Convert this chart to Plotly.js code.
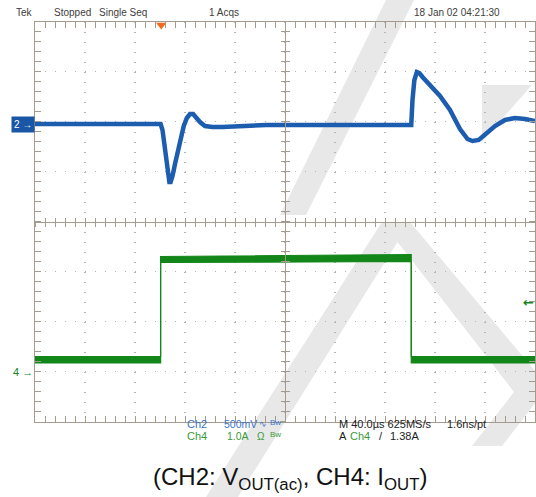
<!DOCTYPE html>
<html><head><meta charset="utf-8">
<script src="https://cdn.plot.ly/plotly-3.0.1.min.js"></script>
<style>html,body{margin:0;padding:0;background:#fff;} #chart{width:536px;height:497px;}</style>
</head><body><div id="chart"></div>
<script>
// ---- Time base: 40 µs/div, 10 divisions ----
const timeRange = [-200, 200];
const triggerTime = -99;      // µs
const triggerLevel = 1.38;    // A (Ch4)

// ---- CH2: VOUT(ac), mV (500 mV/div) ----
const ch2_t  = [-200, -170, -140, -120, -99.5, -98, -96.5, -95, -93.5, -92.5, -91.5, -90, -88, -86, -83.5, -81, -78.5, -76, -73.5, -71, -68, -64, -58, -50, -35, -15, 20, 60, 90, 101, 102, 103.5, 105.5, 107.5, 110, 116, 124, 132, 140, 146, 150, 155, 161, 168, 176, 184, 192, 200];
const ch2_mV = [0, 0, -10, 0, 0, -60, -210, -360, -510, -580, -580, -520, -400, -280, -140, -20, 60, 100, 100, 60, 20, -20, -30, -30, -20, -10, -10, -10, -10, -10, 240, 440, 520, 510, 470, 390, 280, 140, -50, -150, -170, -160, -100, -20, 40, 60, 50, 30];

// ---- CH4: IOUT, A (1.0 A/div) — displayed band envelope ----
const ch4_t     = [-200, -99.5, -99.5, 101, 101, 200];
const ch4_upper = [0.30, 0.30, 2.30, 2.34, 0.30, 0.30];
const ch4_lower = [0.17, 0.17, 2.18, 2.20, 0.17, 0.17];

const frameColor = '#a59a8e';
const gridColor = '#b4b4b4';
const blue = '#1d5db0';
const green = '#13861a';
const xDom = [35/536, 535/536];
const yDom = [75.5/497, 475.5/497];

const traces = [
  {x: ch4_t, y: ch4_lower, xaxis:'x', yaxis:'y3', mode:'lines', line:{color:green, width:1.2}, hoverinfo:'skip'},
  {x: ch4_t, y: ch4_upper, xaxis:'x', yaxis:'y3', mode:'lines', line:{color:green, width:1.2}, fill:'tonexty', fillcolor:green, hoverinfo:'skip'},
  {x: ch2_t, y: ch2_mV, xaxis:'x', yaxis:'y2', mode:'lines', line:{color:blue, width:4.5}, hoverinfo:'skip'},
  {x: [triggerTime], y: [3.93], xaxis:'x', yaxis:'y', mode:'markers', marker:{symbol:'triangle-down', size:9, color:'#f26a1b'}, cliponaxis:false, hoverinfo:'skip'},
  {x: [], y: [], xaxis:'x2', yaxis:'y', hoverinfo:'skip'},
  {x: [], y: [], xaxis:'x3', yaxis:'y', hoverinfo:'skip'},
  {x: [], y: [], xaxis:'x', yaxis:'y4', hoverinfo:'skip'},
  {x: [], y: [], xaxis:'x', yaxis:'y5', hoverinfo:'skip'}
];

function centerX(tk){ return {overlaying:'x', domain:xDom, range:timeRange, anchor:'free', position:(497-221.5)/497, side:'bottom',
  showline:true, linecolor:frameColor, linewidth:1, ticks:tk, ticklen:4, tickcolor:frameColor, tickwidth:1, dtick:40, tick0:0,
  minor:{dtick:8, tick0:0, ticks:tk, ticklen:4, tickcolor:frameColor, showgrid:false}, showgrid:false, zeroline:false, showticklabels:false, fixedrange:true}; }
function centerY(tk){ return {overlaying:'y', domain:yDom, range:[-4,4], anchor:'free', position:285/536, side:'left',
  showline:true, linecolor:frameColor, linewidth:1, ticks:tk, ticklen:4, tickcolor:frameColor, tickwidth:1, dtick:1, tick0:0,
  minor:{dtick:0.2, tick0:0, ticks:tk, ticklen:4, tickcolor:frameColor, showgrid:false}, showgrid:false, zeroline:false, showticklabels:false, fixedrange:true}; }

const hdrFont = {family:'Liberation Sans, Arial, sans-serif', size:10, color:'#404040'};
const infoFont = (c, s) => ({family:'Liberation Sans, Arial, sans-serif', size:s||11, color:c});
function txt(t, x, y, font, extra){ return Object.assign({text:t, x:x/536, y:1-y/497, xref:'paper', yref:'paper', xanchor:'left', yanchor:'middle', showarrow:false, font:font}, extra||{}); }

const annotations = [
  txt('Tek', 14, 13, hdrFont),
  txt('Stopped', 52, 13, hdrFont),
  txt('Single Seq', 97, 13, hdrFont),
  txt('1 Acqs', 207, 13, hdrFont),
  txt('18 Jan 02 04:21:30', 412, 13, hdrFont),
  txt('Ch2', 185, 424, infoFont('#3a74c4')),
  txt('500mV', 222, 424, infoFont('#3a74c4', 10.5)),
  txt('∿', 257, 424, infoFont('#3a74c4', 9)),
  txt('Bw', 268, 422, infoFont('#3a74c4', 8)),
  txt('Ch4', 185, 436, infoFont('#3a9a3a')),
  txt('1.0A', 225, 436, infoFont('#3a9a3a', 10.5)),
  txt('Ω', 255, 436, infoFont('#3a9a3a', 10)),
  txt('Bw', 268, 434, infoFont('#3a9a3a', 8)),
  txt('M 40.0µs 625MS/s', 337, 424, infoFont('#222')),
  txt('1.6ns/pt', 445, 424, infoFont('#222')),
  txt('A', 337, 436, infoFont('#222')),
  txt('Ch4', 348, 436, infoFont('#3a9a3a')),
  txt('/', 377, 436, infoFont('#222')),
  txt('1.38A', 388, 436, infoFont('#222')),
  {text:'(CH2: V<sub>OUT(ac)</sub>, CH4: I<sub>OUT</sub>)', x:290/536, y:1-478/497, xref:'paper', yref:'paper', xanchor:'center', yanchor:'middle', showarrow:false,
   font:{family:'Liberation Sans, Arial, sans-serif', size:24, color:'#111'}},
  {text:'2 →', x:35/536, xref:'paper', xanchor:'right', y:0, yref:'y2', yanchor:'middle', showarrow:false, bgcolor:'#1a56a6', borderpad:2,
   font:{family:'Liberation Sans, Arial, sans-serif', size:10, color:'#fff'}},
  {text:'4 →', x:35/536, xref:'paper', xanchor:'right', y:0, yref:'y3', yanchor:'middle', showarrow:false,
   font:{family:'Liberation Sans, Arial, sans-serif', size:11, color:green}},
  {text:'<b>←</b>', x:1, xref:'paper', xanchor:'right', y:triggerLevel, yref:'y3', yanchor:'middle', showarrow:false,
   font:{family:'DejaVu Sans, sans-serif', size:13, color:green}}
];

// light-grey background watermark (decorative), outlines in page pixels
function wm(pts){
  return {type:'path', xref:'paper', yref:'paper', layer:'below', fillcolor:'#e8e8e8', line:{width:0},
    path: 'M' + pts.map(p => (p[0]/536).toFixed(4) + ',' + (1 - p[1]/497).toFixed(4)).join('L') + 'Z'};
}
const shapes = [
  wm([[386,0],[414,0],[306,215],[280,215]]),
  wm([[382,222],[410,222],[238,497],[206,497]]),
  wm([[382,222],[410,222],[536,372],[536,402],[502,446],[472,446],[514,392]]),
  wm([[482,85],[532,85],[482,142]])
];

const frameAxis = {showline:true, linecolor:frameColor, linewidth:1, mirror:'allticks', ticks:'inside', ticklen:6, tickcolor:frameColor, tickwidth:1,
  showticklabels:false, zeroline:false, showgrid:true, gridcolor:gridColor, gridwidth:1.2, griddash:'1.2px,8.8px', fixedrange:true};

const layout = {
  width:536, height:497, margin:{l:0, r:0, t:0, b:0},
  paper_bgcolor:'#fff', plot_bgcolor:'#fff', showlegend:false,
  xaxis: Object.assign({}, frameAxis, {domain:xDom, range:timeRange, dtick:40, tick0:0,
    minor:{dtick:8, tick0:0, ticks:'inside', ticklen:4, tickcolor:frameColor, showgrid:false}}),
  yaxis: Object.assign({}, frameAxis, {domain:yDom, range:[-4,4], dtick:1, tick0:0,
    minor:{dtick:0.2, tick0:0, ticks:'inside', ticklen:4, tickcolor:frameColor, showgrid:false}}),
  yaxis2: {overlaying:'y', domain:yDom, range:[-2975, 1025], visible:false, fixedrange:true},
  yaxis3: {overlaying:'y', domain:yDom, range:[-1, 7], visible:false, fixedrange:true},
  xaxis2: centerX('outside'),
  xaxis3: centerX('inside'),
  yaxis4: centerY('outside'),
  yaxis5: centerY('inside'),
  shapes: shapes,
  annotations: annotations
};

Plotly.newPlot('chart', traces, layout, {staticPlot:true, displayModeBar:false});
</script></body></html>
